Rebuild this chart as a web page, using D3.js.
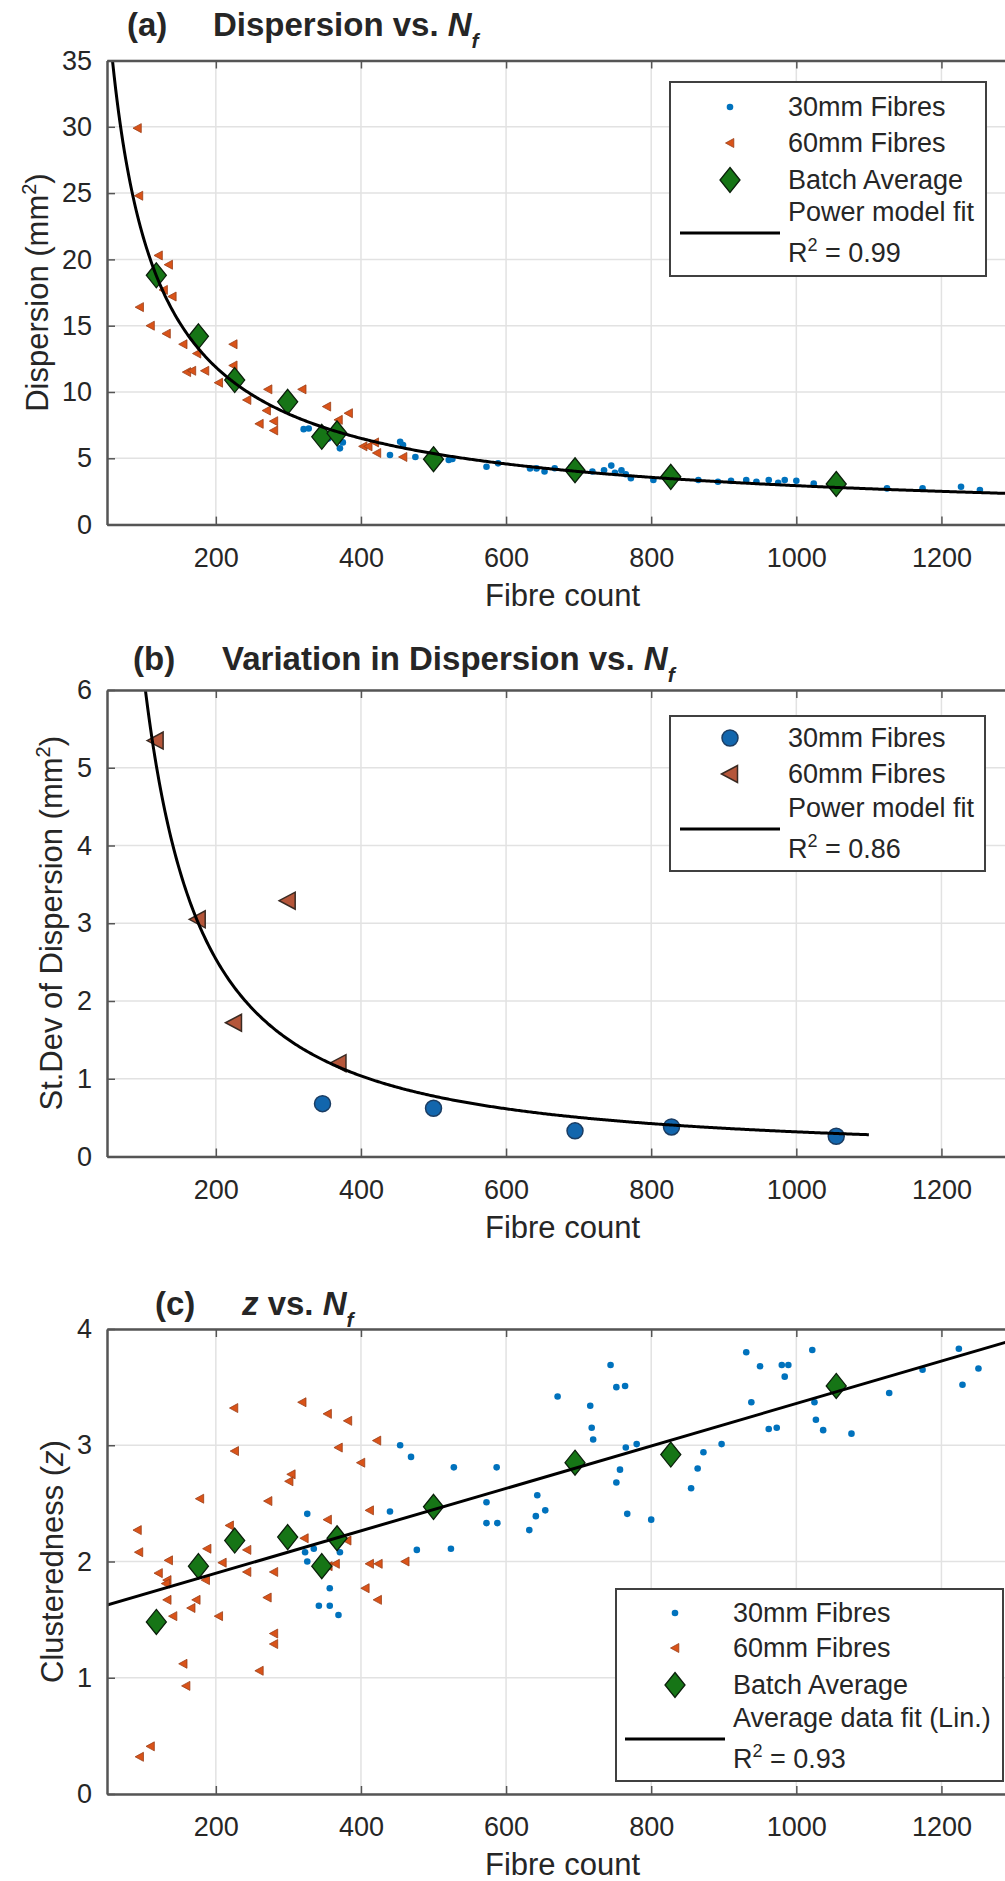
<!DOCTYPE html>
<html>
<head>
<meta charset="utf-8">
<title>Dispersion and clusteredness vs. fibre count</title>
<script src="https://cdn.jsdelivr.net/npm/d3@7"></script>
<style>
  body { margin: 0; background: #fff; }
  text { font-family: Arial, "Liberation Sans", Helvetica, sans-serif; fill: #262626; }
</style>
</head>
<body>
<script>
// batch averages (same batches in every panel)
var batchN    = [118, 176, 226, 299, 346, 367, 500, 695, 827, 1055];
var batchDisp = [18.8, 14.2, 10.9, 9.26, 6.62, 6.88, 4.93, 4.1, 3.6, 3.06];
var batchZ    = [1.48, 1.96, 2.18, 2.21, 1.96, 2.20, 2.47, 2.85, 2.92, 3.51];

// (a) dispersion of single samples [fibre count, dispersion]
var disp30 = [[321,7.2],[328,7.25],[355,6.5],[362,7.0],[371,5.75],[375,6.2],[440,5.25],[454,6.25],
  [458,6.0],[475,5.1],[521,4.87],[526,4.95],[573,4.36],[589,4.62],[633,4.24],[642,4.24],[653,4.0],
  [667,4.25],[690,4.35],[719,4.0],[735,4.1],[745,4.45],[750,3.9],[759,4.1],[765,3.8],[772,3.5],
  [803,3.36],[865,3.36],[892,3.23],[910,3.3],[931,3.36],[945,3.23],[962,3.36],[975,3.15],[984,3.36],
  [1000,3.3],[1024,3.1],[1125,2.73],[1174,2.73],[1227,2.86],[1253,2.6]];
var disp60 = [[92,29.9],[94,24.8],[95,16.4],[110,15.0],[121,20.3],[128,17.7],[132,14.4],[135,19.6],
  [140,17.2],[155,13.6],[160,11.5],[167,11.6],[174,12.9],[185,11.6],[204,10.7],[224,13.6],[224,12.0],
  [243,9.4],[260,7.6],[270,8.6],[272,10.2],[280,7.8],[280,7.1],[319,10.2],[353,8.9],[369,7.9],
  [383,8.4],[403,5.9],[410,5.9],[419,6.2],[422,5.4],[458,5.1]];

// (b) standard deviation of dispersion per batch
var sd30N = [347, 500, 695, 828, 1055];
var sd30  = [0.68, 0.62, 0.33, 0.38, 0.26];
var sd60N = [117, 175, 225, 299, 369];
var sd60  = [5.35, 3.05, 1.72, 3.29, 1.20];

// (c) clusteredness of single samples [fibre count, z]
var z30 = [[326,2.41],[323,2.08],[326,2.00],[335,2.11],[371,2.08],[357,1.77],[342,1.62],[357,1.62],
  [369,1.54],[440,2.43],[477,2.10],[454,3.00],[469,2.90],[528,2.81],[587,2.81],[573,2.51],[573,2.33],
  [588,2.33],[524,2.11],[643,2.57],[654,2.44],[641,2.39],[632,2.27],[671,3.42],[716,3.34],[718,3.15],
  [720,3.05],[744,3.69],[752,3.50],[764,3.51],[765,2.98],[780,3.01],[757,2.79],[752,2.68],[767,2.41],
  [800,2.36],[872,2.94],[897,3.01],[864,2.80],[855,2.63],[931,3.80],[950,3.68],[980,3.69],[989,3.69],
  [984,3.59],[938,3.37],[962,3.14],[973,3.15],[1022,3.82],[1025,3.37],[1027,3.22],[1037,3.13],
  [1076,3.10],[1128,3.45],[1174,3.65],[1224,3.83],[1251,3.66],[1229,3.52]];
var z60 = [[225,3.32],[226,2.95],[319,3.37],[354,3.27],[382,3.21],[369,2.98],[422,3.04],[400,2.85],
  [304,2.75],[301,2.69],[178,2.54],[272,2.52],[354,2.36],[412,2.44],[92,2.27],[219,2.31],[322,2.20],
  [94,2.08],[188,2.11],[243,2.10],[135,2.01],[209,1.99],[412,1.98],[424,1.98],[461,2.00],[365,1.98],
  [121,1.90],[133,1.84],[131,1.81],[243,1.91],[280,1.91],[186,1.84],[133,1.67],[173,1.67],[166,1.60],
  [141,1.53],[204,1.53],[271,1.69],[406,1.77],[423,1.67],[280,1.38],[280,1.29],[155,1.12],[159,0.93],
  [260,1.06],[110,0.41],[95,0.32],[381,2.18],[355,1.96]];

// fitted models
var dispFit = {a: 1180, b: -0.868, r2: "0.99"};
var sdFit   = {a: 2400, b: -1.293, from: 100, to: 1100, r2: "0.86"};
var zFit    = {slope: 0.001825, intercept: 1.534, r2: "0.93"};

var xTicks    = [200, 400, 600, 800, 1000, 1200];
var dispTicks = [0, 5, 10, 15, 20, 25, 30, 35];
var sdTicks   = [0, 1, 2, 3, 4, 5, 6];
var zTicks    = [0, 1, 2, 3, 4];

var svg = d3.select("body").append("svg")
  .attr("width", 1005)
  .attr("height", 1881);
svg.append("rect").attr("width", 1005).attr("height", 1881).attr("fill", "#fff");

var left = 107, right = 1014;
var x = d3.scaleLinear().domain([50, 1300]).range([left, right]);
var fmt = d3.format("d");

// marker shapes
var markers = {
  dot: function(s) { s.append("circle").attr("r", 3.3).attr("fill", "#0072BD"); },
  tri: function(s) { s.append("path").attr("d", "M-4.5,0L3.8,-4.5L3.8,4.5Z")
      .attr("fill", "#D95319").attr("stroke", "#9a3f18").attr("stroke-width", 0.8); },
  diamond: function(s) { s.append("path").attr("d", "M0,-12.5L10,0L0,12.5L-10,0Z")
      .attr("fill", "#167516").attr("stroke", "#0b1f0b").attr("stroke-width", 1.3); },
  circle: function(s) { s.append("circle").attr("r", 8)
      .attr("fill", "#1266ad").attr("stroke", "#1b3d63").attr("stroke-width", 1.5); },
  bigTri: function(s) { s.append("path").attr("d", "M-8.5,0L7.5,-8.5L7.5,8.5Z")
      .attr("fill", "#B5563A").attr("stroke", "#3a2a22").attr("stroke-width", 1.5); }
};

function drawPanel(p) {
  var y = d3.scaleLinear().domain(p.yDomain).range([p.bottom, p.top]);
  var g = svg.append("g");

  // grid
  g.selectAll(".gx").data(xTicks).enter().append("line")
    .attr("x1", function(d) { return x(d); }).attr("x2", function(d) { return x(d); })
    .attr("y1", p.top).attr("y2", p.bottom)
    .attr("stroke", "#e2e2e2").attr("stroke-width", 1.5);
  g.selectAll(".gy").data(p.yTicks).enter().append("line")
    .attr("x1", left).attr("x2", right)
    .attr("y1", function(d) { return y(d); }).attr("y2", function(d) { return y(d); })
    .attr("stroke", "#e2e2e2").attr("stroke-width", 1.5);

  // data, clipped to the axes box
  var clipId = "clip-" + p.id;
  svg.append("clipPath").attr("id", clipId).append("rect")
    .attr("x", left).attr("y", p.top).attr("width", right - left).attr("height", p.bottom - p.top);
  var plot = g.append("g").attr("clip-path", "url(#" + clipId + ")");

  p.series.forEach(function(s) {
    if (s.line) {
      plot.append("path")
        .datum(s.line)
        .attr("fill", "none").attr("stroke", "#000").attr("stroke-width", 3)
        .attr("d", d3.line().x(function(d) { return x(d[0]); }).y(function(d) { return y(d[1]); }));
    } else {
      plot.selectAll(null).data(s.points).enter().append("g")
        .attr("transform", function(d) { return "translate(" + x(d[0]) + "," + y(d[1]) + ")"; })
        .each(function() { markers[s.marker](d3.select(this)); });
    }
  });

  // axes, ticks inward on all four sides
  var axCol = "#555";
  var bottom = g.append("g").attr("transform", "translate(0," + p.bottom + ")")
    .call(d3.axisBottom(x).tickValues(xTicks).tickFormat(fmt).tickSizeInner(-8).tickSizeOuter(0).tickPadding(23));
  var top = g.append("g").attr("transform", "translate(0," + p.top + ")")
    .call(d3.axisTop(x).tickValues(xTicks).tickSizeInner(-8).tickSizeOuter(0).tickFormat(""));
  var leftAx = g.append("g").attr("transform", "translate(" + left + ",0)")
    .call(d3.axisLeft(y).tickValues(p.yTicks).tickFormat(fmt).tickSizeInner(-8).tickSizeOuter(0).tickPadding(15));
  var rightAx = g.append("g").attr("transform", "translate(" + right + ",0)")
    .call(d3.axisRight(y).tickValues(p.yTicks).tickSizeInner(-8).tickSizeOuter(0).tickFormat(""));
  [bottom, top, leftAx, rightAx].forEach(function(a) {
    a.attr("color", axCol).attr("font-size", 27).attr("font-family", "Arial, 'Liberation Sans', sans-serif");
    a.select(".domain").attr("stroke-width", 2.5);
    a.selectAll(".tick line").attr("stroke-width", 1.5);
    a.selectAll(".tick text").attr("fill", "#262626");
  });

  // axis labels
  g.append("text")
    .attr("x", (left + right) / 2 + 2).attr("y", p.bottom + 81)
    .attr("text-anchor", "middle").attr("font-size", 31)
    .text("Fibre count");
  var yl = g.append("text")
    .attr("transform", "translate(" + p.ylabelX + "," + (p.top + p.bottom) / 2 + ") rotate(-90)")
    .attr("text-anchor", "middle").attr("font-size", 31);
  p.ylabel(yl);

  // title
  var t = g.append("text").attr("y", p.titleY).attr("font-size", 33).attr("font-weight", "bold");
  t.append("tspan").attr("x", p.titleX[0]).text(p.tag);
  var main = g.append("text").attr("x", p.titleX[1]).attr("y", p.titleY)
    .attr("font-size", 33).attr("font-weight", "bold");
  p.title(main);
  main.append("tspan").attr("font-style", "italic").text("N");
  main.append("tspan").attr("font-style", "italic").attr("font-size", 21).attr("dy", 12).text("f");

  // legend
  var L = p.legend;
  g.append("rect").attr("x", L.x0).attr("y", L.y0)
    .attr("width", L.x1 - L.x0).attr("height", L.y1 - L.y0)
    .attr("fill", "#fff").attr("stroke", "#404040").attr("stroke-width", 2);
  L.items.forEach(function(it) {
    if (it.marker) {
      var m = g.append("g").attr("transform", "translate(" + L.mx + "," + it.y + ")");
      markers[it.marker](m);
      g.append("text").attr("x", L.tx).attr("y", it.y).attr("dy", "0.35em")
        .attr("font-size", 27).text(it.label);
    } else {
      g.append("line").attr("x1", L.mx - 50).attr("x2", L.mx + 50)
        .attr("y1", it.y).attr("y2", it.y).attr("stroke", "#000").attr("stroke-width", 3);
      g.append("text").attr("x", L.tx).attr("y", it.y - 21).attr("dy", "0.35em")
        .attr("font-size", 27).text(it.label);
      var r = g.append("text").attr("x", L.tx).attr("y", it.y + 20).attr("dy", "0.35em")
        .attr("font-size", 27);
      r.append("tspan").text("R");
      r.append("tspan").attr("font-size", 18).attr("dy", -11).text("2");
      r.append("tspan").attr("dy", 11).text(" = " + it.r2);
    }
  });
}

function powerCurve(f, from, to) {
  return d3.range(from, to + 1, 2).map(function(n) { return [n, f.a * Math.pow(n, f.b)]; });
}
function zip(a, b) { return a.map(function(v, i) { return [v, b[i]]; }); }

// (a)
drawPanel({
  id: "a", top: 60.5, bottom: 524.6, yDomain: [0, 35], yTicks: dispTicks,
  ylabelX: 48,
  ylabel: function(t) {
    t.append("tspan").text("Dispersion (mm");
    t.append("tspan").attr("font-size", 20).attr("dy", -12).text("2");
    t.append("tspan").attr("dy", 12).text(")");
  },
  tag: "(a)", titleX: [127, 213], titleY: 36,
  title: function(t) { t.append("tspan").text("Dispersion vs. "); },
  series: [
    {marker: "dot", points: disp30},
    {marker: "tri", points: disp60},
    {marker: "diamond", points: zip(batchN, batchDisp)},
    {line: powerCurve(dispFit, 50, 1300)}
  ],
  legend: {x0: 670, y0: 82, x1: 986, y1: 276, mx: 730, tx: 788, items: [
    {marker: "dot", label: "30mm Fibres", y: 107},
    {marker: "tri", label: "60mm Fibres", y: 143},
    {marker: "diamond", label: "Batch Average", y: 180},
    {label: "Power model fit", r2: dispFit.r2, y: 233}
  ]}
});

// (b)
drawPanel({
  id: "b", top: 690, bottom: 1156.5, yDomain: [0, 6], yTicks: sdTicks,
  ylabelX: 62,
  ylabel: function(t) {
    t.append("tspan").text("St.Dev of Dispersion (mm");
    t.append("tspan").attr("font-size", 20).attr("dy", -12).text("2");
    t.append("tspan").attr("dy", 12).text(")");
  },
  tag: "(b)", titleX: [133, 222], titleY: 670,
  title: function(t) { t.append("tspan").text("Variation in Dispersion vs. "); },
  series: [
    {marker: "circle", points: zip(sd30N, sd30)},
    {marker: "bigTri", points: zip(sd60N, sd60)},
    {line: powerCurve(sdFit, sdFit.from, sdFit.to)}
  ],
  legend: {x0: 670, y0: 716, x1: 985, y1: 871, mx: 730, tx: 788, items: [
    {marker: "circle", label: "30mm Fibres", y: 738},
    {marker: "bigTri", label: "60mm Fibres", y: 774},
    {label: "Power model fit", r2: sdFit.r2, y: 829}
  ]}
});

// (c)
drawPanel({
  id: "c", top: 1329, bottom: 1794, yDomain: [0, 4], yTicks: zTicks,
  ylabelX: 63,
  ylabel: function(t) {
    t.append("tspan").text("Clusteredness (");
    t.append("tspan").attr("font-style", "italic").text("z");
    t.append("tspan").text(")");
  },
  tag: "(c)", titleX: [155, 242], titleY: 1315,
  title: function(t) {
    t.append("tspan").attr("font-style", "italic").text("z");
    t.append("tspan").text(" vs. ");
  },
  series: [
    {marker: "dot", points: z30},
    {marker: "tri", points: z60},
    {marker: "diamond", points: zip(batchN, batchZ)},
    {line: [50, 1300].map(function(n) { return [n, zFit.intercept + zFit.slope * n]; })}
  ],
  legend: {x0: 616, y0: 1589, x1: 1003, y1: 1781, mx: 675, tx: 733, items: [
    {marker: "dot", label: "30mm Fibres", y: 1613},
    {marker: "tri", label: "60mm Fibres", y: 1648},
    {marker: "diamond", label: "Batch Average", y: 1685},
    {label: "Average data fit (Lin.)", r2: zFit.r2, y: 1739}
  ]}
});
</script>
</body>
</html>
